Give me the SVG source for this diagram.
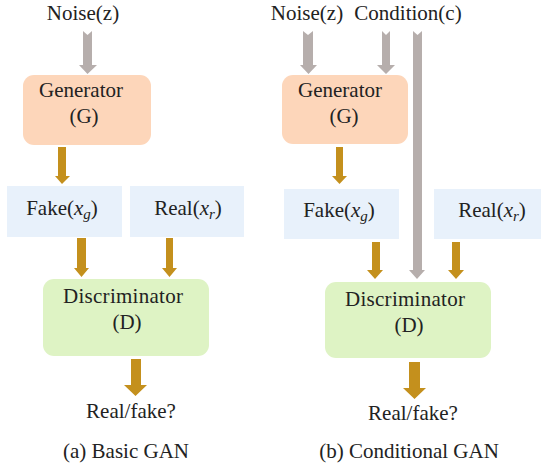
<svg xmlns="http://www.w3.org/2000/svg" width="543" height="468" viewBox="0 0 543 468">
  <style>
    text { font-family: "Liberation Serif", "Times New Roman", serif; font-size: 21px; fill: #222; text-anchor: middle; }
    .it { font-style: italic; }
    .gen { fill: #FDD6BA; }
    .dis { fill: #DEF3C4; }
    .dat { fill: #E8F1FB; }
    .cond { fill: #B6AEAC; }
    .flow { fill: #C4901D; }
  </style>

  <!-- (a) Basic GAN -->
  <text x="83" y="20">Noise(z)</text>
  <g id="gen-a">
    <rect class="gen" x="23" y="75" width="128" height="70" rx="11"/>
    <text x="81" y="97">Generator</text>
    <text x="84" y="123">(G)</text>
  </g>
  <g id="fake-a">
    <rect class="dat" x="7" y="186" width="115" height="51"/>
    <text x="62" y="215">Fake(<tspan class="it">x</tspan><tspan class="it" font-size="15" dy="4">g</tspan><tspan dy="-4">)</tspan></text>
  </g>
  <g id="real-a">
    <rect class="dat" x="130" y="186" width="114" height="51"/>
    <text x="188" y="215">Real(<tspan class="it">x</tspan><tspan class="it" font-size="15" dy="4">r</tspan><tspan dy="-4">)</tspan></text>
  </g>
  <g id="dis-a">
    <rect class="dis" x="43" y="279" width="166" height="77" rx="11"/>
    <text x="123" y="303" textLength="120" lengthAdjust="spacing">Discriminator</text>
    <text x="127" y="329">(D)</text>
  </g>
  <text x="131" y="418">Real/fake?</text>
  <text x="126" y="458">(a) Basic GAN</text>

  <!-- (b) Conditional GAN -->
  <text x="307" y="20">Noise(z)</text>
  <text x="408" y="20">Condition(c)</text>
  <g id="gen-b">
    <rect class="gen" x="282" y="75" width="126" height="69" rx="11"/>
    <text x="340" y="97">Generator</text>
    <text x="344" y="123">(G)</text>
  </g>
  <g id="fake-b">
    <rect class="dat" x="284" y="189" width="115" height="50"/>
    <text x="339" y="217">Fake(<tspan class="it">x</tspan><tspan class="it" font-size="15" dy="4">g</tspan><tspan dy="-4">)</tspan></text>
  </g>
  <g id="real-b">
    <rect class="dat" x="434" y="189" width="107" height="50"/>
    <text x="492" y="217">Real(<tspan class="it">x</tspan><tspan class="it" font-size="15" dy="4">r</tspan><tspan dy="-4">)</tspan></text>
  </g>
  <g id="dis-b">
    <rect class="dis" x="325" y="282" width="166" height="76" rx="11"/>
    <text x="405" y="306" textLength="120" lengthAdjust="spacing">Discriminator</text>
    <text x="409" y="332">(D)</text>
  </g>
  <text x="413" y="420">Real/fake?</text>
  <text x="409" y="458">(b) Conditional GAN</text>

  <!-- connectors: notched grey block arrows for inputs, gold block arrows for data flow -->
  <g id="connectors">
    <polygon class="cond" points="83,31 87.5,35 92,31 92,65 97,65 87.5,74 79,65 83,65"/>
    <polygon class="flow" points="58,147 66,147 66,176 70,176 62,184 55,176 58,176"/>
    <polygon class="flow" points="77,238 86,238 86,268 89,268 81.5,277 74,268 77,268"/>
    <polygon class="flow" points="166,238 173,238 173,268 177,268 169.5,277 162,268 166,268"/>
    <polygon class="flow" points="131,359 141,359 141,385 147,385 135.5,396 124,385 131,385"/>

    <polygon class="cond" points="303,31 308,35 313,31 313,65 317,65 308.5,74 300,65 303,65"/>
    <polygon class="cond" points="382,31 386,35 390,31 390,65 395,65 386,74 377,65 382,65"/>
    <polygon class="cond" points="413,31 417.5,35 422,31 422,270 425,270 417,279 409,270 413,270"/>
    <polygon class="flow" points="336,147 343,147 343,176 347,176 339.5,184 332,176 336,176"/>
    <polygon class="flow" points="372,242 380,242 380,270 383,270 375,279 367,270 372,270"/>
    <polygon class="flow" points="452,242 460,242 460,270 464,270 456,279 448,270 452,270"/>
    <polygon class="flow" points="409,362 420,362 420,388 426,388 414.5,399 403,388 409,388"/>
  </g>
</svg>
